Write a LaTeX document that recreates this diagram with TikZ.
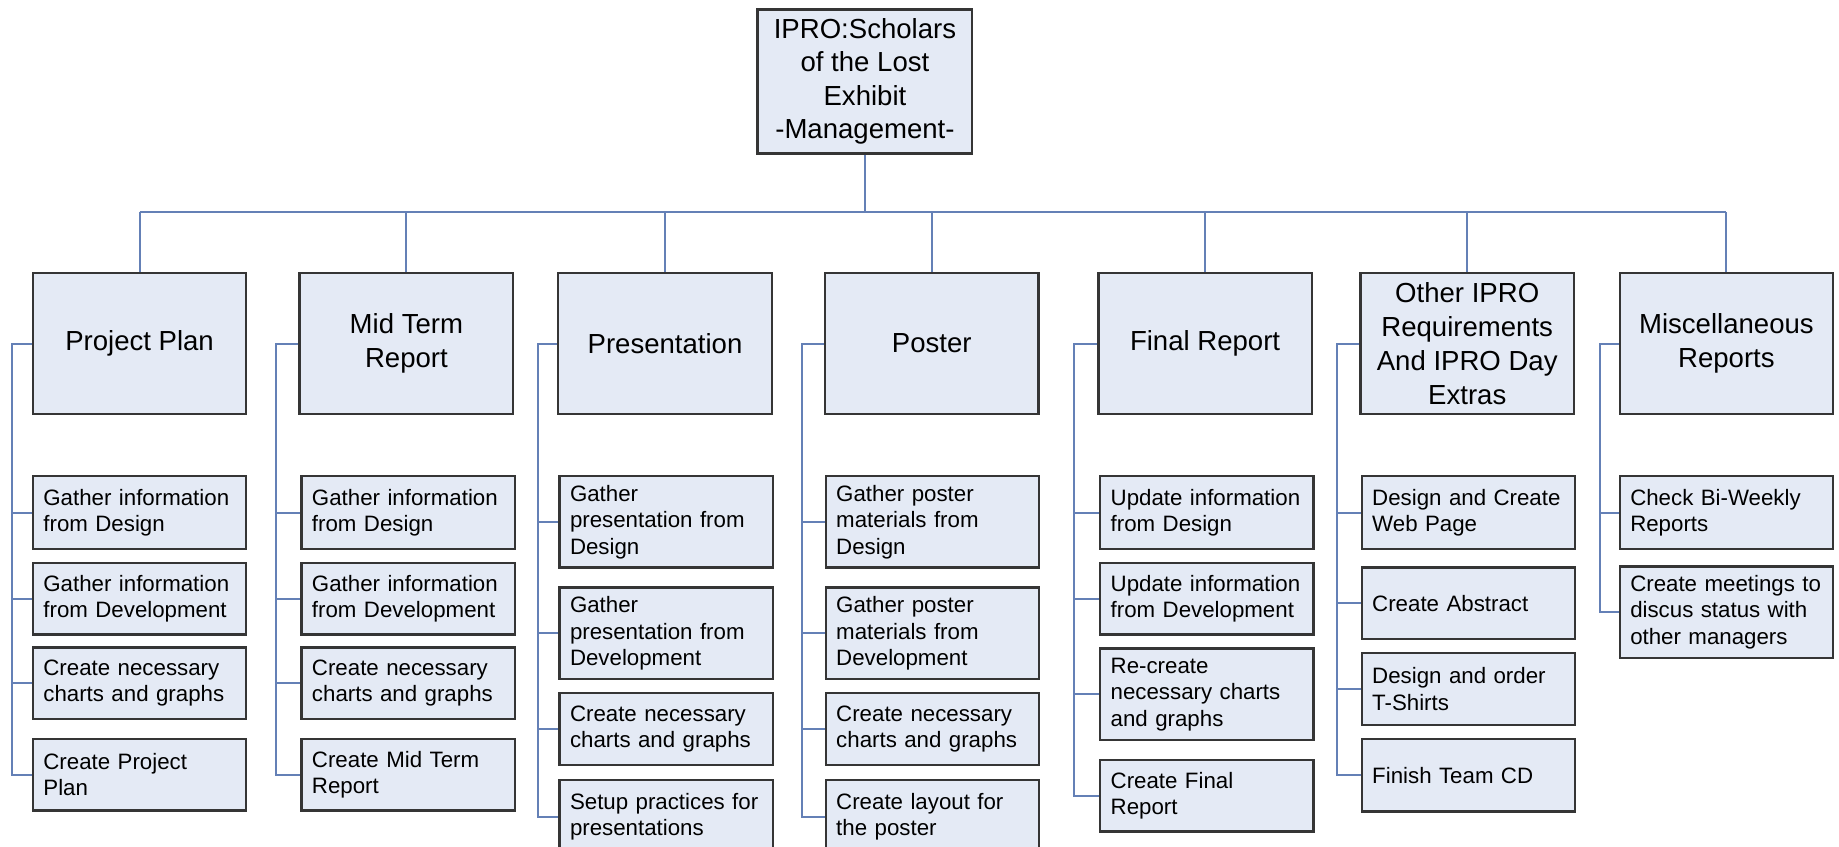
\documentclass[tikz,border=0pt]{standalone}
\usepackage{fontspec}
\setmainfont{Liberation Sans}
\definecolor{boxfill}{HTML}{E4EAF5}
\definecolor{boxline}{HTML}{353535}
\definecolor{connc}{HTML}{6480B6}
\tikzset{
  box/.style={draw=boxline, fill=boxfill, line width=2pt, inner sep=0pt},
  topbox/.style={box, minimum width=182pt, minimum height=120pt, align=center,
    font=\fontsize{23.5}{29}\selectfont},
  leaf/.style={box, anchor=north west, text width=164pt, inner xsep=9pt, inner ysep=2pt,
    align=left, font=\fontsize{19}{22.5}\selectfont},
  conn/.style={draw=connc, line width=1.7pt}
}
\begin{document}
\begin{tikzpicture}[x=1pt,y=-1pt]
\useasboundingbox (0,0) rectangle (1568,722);
\clip (0,0) rectangle (1568,722);
\fill[white] (0,0) rectangle (1568,722);

% root
\node[box, minimum width=183pt, minimum height=123pt, align=center,
  font=\fontsize{23.5}{28.5}\selectfont] (root) at (737.5,69.5)
  {IPRO:Scholars\\of the Lost\\Exhibit\\-Management-};

% top level
\node[topbox] (pp) at (119,293) {Project Plan};
\node[topbox] (mt) at (346.5,293) {Mid Term\\Report};
\node[topbox] (pr) at (567,293) {Presentation};
\node[topbox] (po) at (794.5,293) {Poster};
\node[topbox] (fr) at (1027.5,293) {Final Report};
\node[topbox] (ot) at (1251,293) {Other IPRO\\Requirements\\And IPRO Day\\Extras};
\node[topbox] (mi) at (1472,293) {Miscellaneous\\Reports};

% children
\node[leaf, minimum height=62pt] (pp1) at (27,405) {Gather information\\from Design};
\node[leaf, minimum height=61pt] (pp2) at (27,479) {Gather information\\from Development};
\node[leaf, minimum height=61pt] (pp3) at (27,551) {Create necessary\\charts and graphs};
\node[leaf, minimum height=61pt] (pp4) at (27,629) {Create Project\\Plan};

\node[leaf, minimum height=62pt] (mt1) at (256,405) {Gather information\\from Design};
\node[leaf, minimum height=61pt] (mt2) at (256,479) {Gather information\\from Development};
\node[leaf, minimum height=61pt] (mt3) at (256,551) {Create necessary\\charts and graphs};
\node[leaf, minimum height=61pt] (mt4) at (256,629) {Create Mid Term\\Report};

\node[leaf, minimum height=78pt] (pr1) at (476,405) {Gather\\presentation from\\Design};
\node[leaf, minimum height=78pt] (pr2) at (476,500) {Gather\\presentation from\\Development};
\node[leaf, minimum height=61pt] (pr3) at (476,590) {Create necessary\\charts and graphs};
\node[leaf, minimum height=63pt] (pr4) at (476,664) {Setup practices for\\presentations};

\node[leaf, minimum height=78pt] (po1) at (703,405) {Gather poster\\materials from\\Design};
\node[leaf, minimum height=78pt] (po2) at (703,500) {Gather poster\\materials from\\Development};
\node[leaf, minimum height=61pt] (po3) at (703,590) {Create necessary\\charts and graphs};
\node[leaf, minimum height=63pt] (po4) at (703,664) {Create layout for\\the poster};

\node[leaf, minimum height=62pt] (fr1) at (937,405) {Update information\\from Design};
\node[leaf, minimum height=61pt] (fr2) at (937,479) {Update information\\from Development};
\node[leaf, minimum height=78pt] (fr3) at (937,552) {Re-create\\necessary charts\\and graphs};
\node[leaf, minimum height=61pt] (fr4) at (937,647) {Create Final\\Report};

\node[leaf, minimum height=62pt] (ot1) at (1160,405) {Design and Create\\Web Page};
\node[leaf, minimum height=61pt] (ot2) at (1160,483) {Create Abstract};
\node[leaf, minimum height=61pt] (ot3) at (1160,556) {Design and order\\T-Shirts};
\node[leaf, minimum height=62pt] (ot4) at (1160,629) {Finish Team CD};

\node[leaf, minimum height=62pt] (mi1) at (1380,405) {Check Bi-Weekly\\Reports};
\node[leaf, minimum height=78pt] (mi2) at (1380,482) {Create meetings to\\discus status with\\other managers};

% bus
\coordinate (bus) at (0,181);
\draw[conn] (root.south) -- (root.south |- bus);
\draw[conn] (pp.north |- bus) -- (mi.north |- bus);
\foreach \t in {pp,mt,pr,po,fr,ot,mi}
  \draw[conn] (\t.north |- bus) -- (\t.north);

% spines
\coordinate (pp-s) at (10,293);
\coordinate (mt-s) at (235,293);
\coordinate (pr-s) at (459,293);
\coordinate (po-s) at (684,293);
\coordinate (fr-s) at (916,293);
\coordinate (ot-s) at (1140,293);
\coordinate (mi-s) at (1364,293);
\foreach \p/\n in {pp/4,mt/4,pr/4,po/4,fr/4,ot/4,mi/2}{
  \draw[conn] (\p.west) -- (\p-s) |- (\p\n.west);
  \foreach \i in {1,...,\n}
    \draw[conn] (\p-s |- \p\i.west) -- (\p\i.west);
}
\end{tikzpicture}
\end{document}
